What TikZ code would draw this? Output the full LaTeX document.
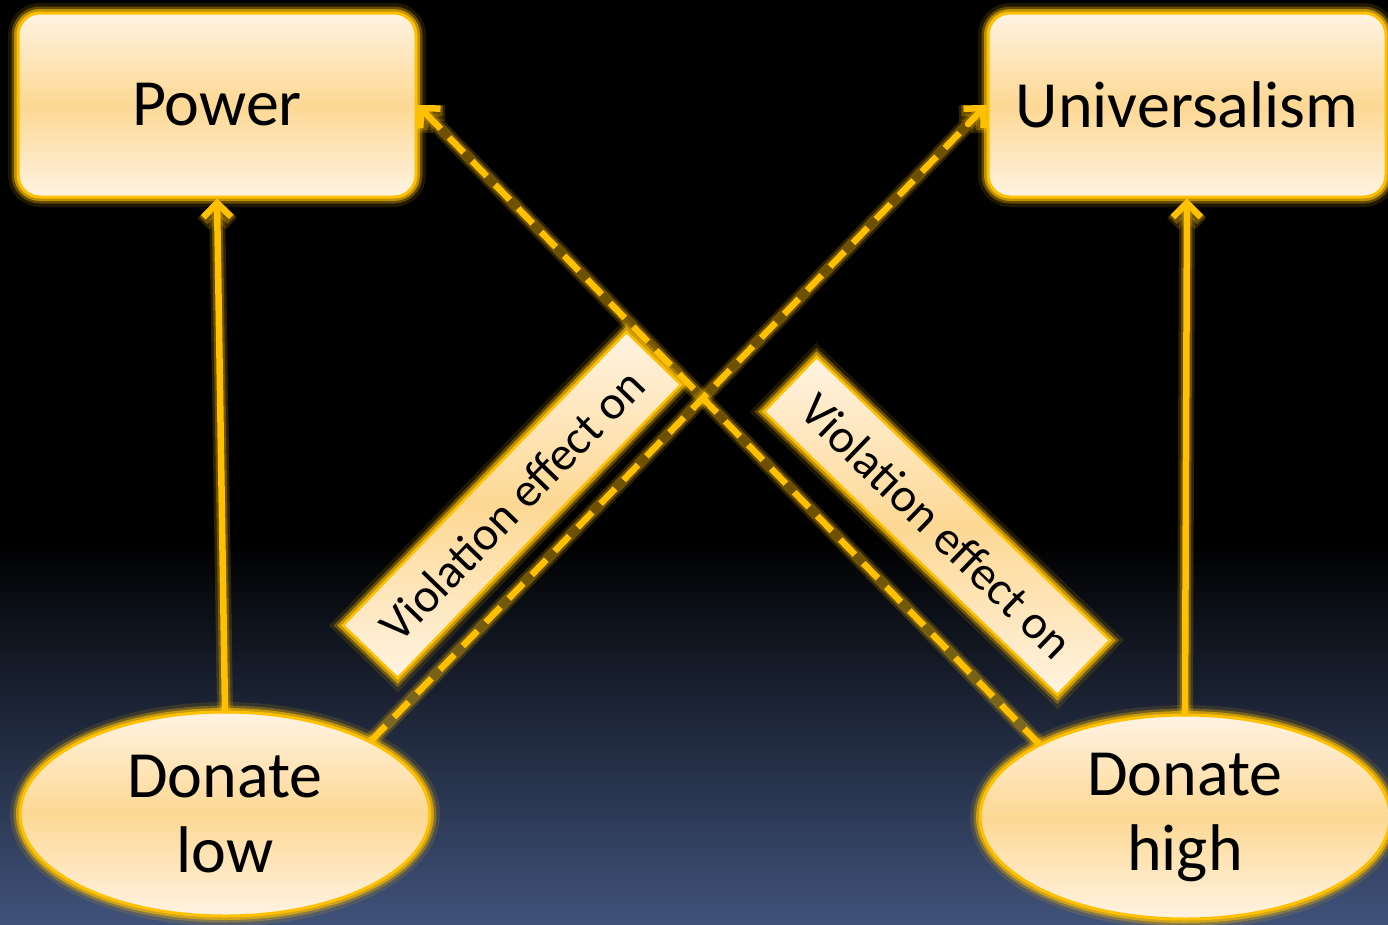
\documentclass[tikz,border=0pt]{standalone}
\usepackage{fontspec}
\setmainfont{Carlito}
\usetikzlibrary{shapes.geometric,arrows.meta,calc}
\definecolor{gold}{HTML}{FFC000}
\definecolor{cream}{HTML}{FFF3E2}
\definecolor{peach}{HTML}{FDD894}
\definecolor{navy}{HTML}{40527A}
\begin{document}
\begin{tikzpicture}[x=1pt,y=-1pt,
  glow/.style={preaction={draw=gold,line width=20pt,opacity=0.12},preaction={draw=gold,line width=13pt,opacity=0.3},preaction={draw=gold,line width=8pt,opacity=0.6}},
  valbox/.style={glow,draw=gold,line width=3pt,rounded corners=22pt,top color=cream,bottom color=cream,middle color=peach,
    minimum width=398pt,minimum height=184pt,inner sep=0pt,text=black,font=\fontsize{66}{75}\selectfont},
  donate/.style={glow,ellipse,draw=gold,line width=3pt,top color=cream,bottom color=cream,middle color=peach,
    minimum width=410pt,minimum height=204pt,inner sep=0pt,align=center,text=black,font=\fontsize{66}{75}\selectfont},
  lab/.style={glow,draw=gold,line width=2.5pt,top color=cream,bottom color=cream,middle color=peach,
    minimum width=408pt,minimum height=76pt,inner sep=0pt,text=black,font=\fontsize{48}{50}\selectfont},
  tip/.tip={Straight Barb[length=14pt,width=28pt]},
  line/.style={draw=gold,line width=6.5pt,
    preaction={draw=gold,line width=16pt,opacity=0.18,solid},
    preaction={draw=gold,line width=11pt,opacity=0.3,solid}},
  conn/.style={line,line cap=round,-tip},
  dashconn/.style={line,dash pattern=on 21pt off 12pt}]
\useasboundingbox (0,0) rectangle (1388,924);
\fill[black] (0,0) rectangle (1388,541);
\shade[top color=black,bottom color=navy] (0,540) rectangle (1388,924);

\node[valbox] (power) at (217,105) {Power};
\node[valbox] (univ) at (1187,105) {Universalism};
\node[donate] (dlow) at (225,814) {Donate\\low};
\node[donate] (dhigh) at (1185,817) {Donate\\high};

\draw[conn] (dlow.north) -- (power.south);
\draw[conn] (dhigh.north) -- (univ.south);
\draw[dashconn] (dlow.north east) -- ($(dlow.north east)!0.97!(univ.west)$);
\draw[conn] ($(dlow.north east)!0.97!(univ.west)$) coordinate (t1) -- (univ.west);
\draw[dashconn] (dhigh.north west) -- ($(dhigh.north west)!0.97!(power.east)$);
\draw[conn] ($(dhigh.north west)!0.97!(power.east)$) coordinate (t2) -- (power.east);

\node[lab,rotate=46] (lab1) at (512,505) {Violation effect on};
\node[lab,rotate=-44] (lab2) at (937,526) {Violation effect on};
\end{tikzpicture}
\end{document}
